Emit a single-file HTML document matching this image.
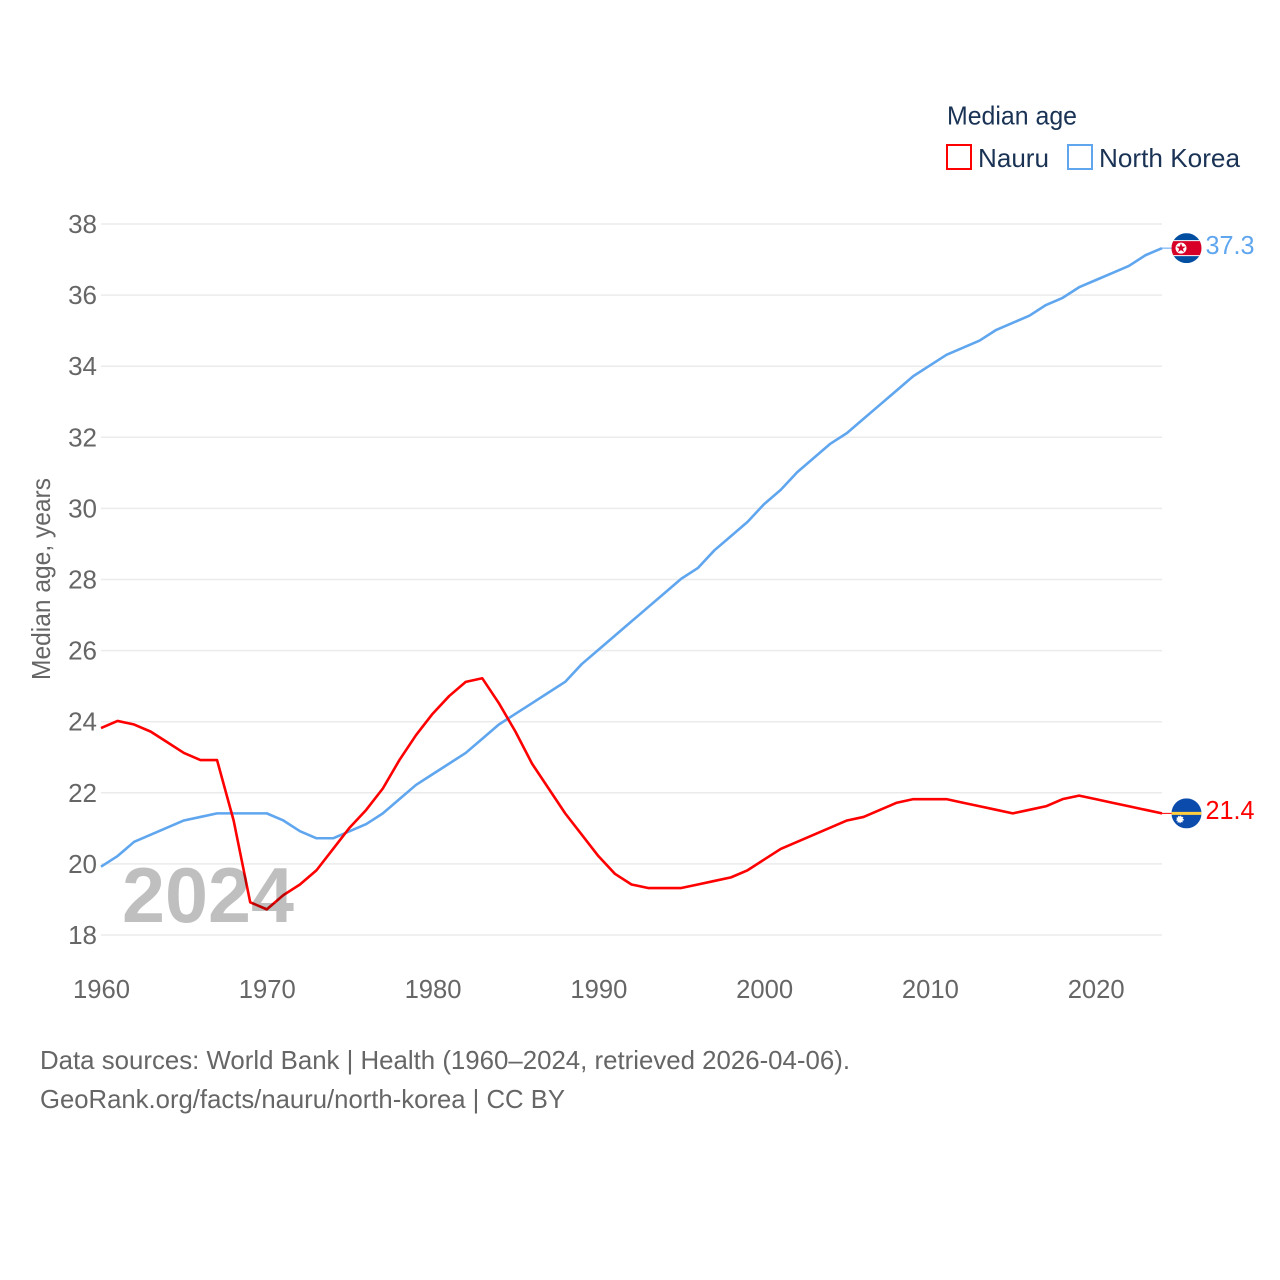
<!DOCTYPE html>
<html lang="en">
<head>
<meta charset="utf-8">
<title>Median age: Nauru and North Korea</title>
<style>
html,body{margin:0;padding:0;background:#fff;}
svg{display:block;font-family:"Liberation Sans",sans-serif;}
</style>
</head>
<body>
<svg id="chart" xmlns="http://www.w3.org/2000/svg" width="1280" height="1280" viewBox="0 0 1280 1280">
  <defs>
    <clipPath id="clip-kp"><circle cx="0" cy="0" r="15"/></clipPath>
    <clipPath id="clip-nr"><circle cx="0" cy="0" r="15"/></clipPath>
  </defs>
  <rect x="0" y="0" width="1280" height="1280" fill="#fff"/>
  <g id="grid"></g>
  <g id="yticks"></g>
  <g id="xticks"></g>
  <text transform="translate(50,680) rotate(-90)" font-size="26" fill="#666" textLength="202" lengthAdjust="spacingAndGlyphs">Median age, years</text>
  <g id="series" transform="translate(0,-0.75)"></g>

  <g id="flag-kp">
    <g clip-path="url(#clip-kp)">
      <rect x="-15" y="-15" width="30" height="30" fill="#024fa2"/>
      <rect x="-15" y="-8" width="30" height="16" fill="#fff"/>
      <rect x="-15" y="-7" width="30" height="14" fill="#d80027"/>
      <circle cx="-5.5" cy="0" r="5.5" fill="#fff"/>
      <polygon fill="#d80027" points="-5.5,-5 -4.3,-1.6 -0.7,-1.5 -3.6,0.6 -2.5,4 -5.5,2 -8.5,4 -7.4,0.6 -10.3,-1.5 -6.7,-1.6"/>
    </g>
  </g>
  <g id="flag-nr">
    <g clip-path="url(#clip-nr)">
      <rect x="-15" y="-15" width="30" height="30" fill="#0a4bab"/>
      <rect x="-15" y="-1.5" width="30" height="3" fill="#ffcf3f"/>
      <circle cx="-6.5" cy="6" r="3" fill="#fff" stroke="#fff" stroke-width="1.6" stroke-dasharray="1 1"/>
    </g>
  </g>
  <text id="value-kp" x="1205.5" font-size="26" fill="#5fa6ef" textLength="49" lengthAdjust="spacingAndGlyphs"></text>
  <text id="value-nr" x="1205.5" font-size="26" fill="#ff0000" textLength="49" lengthAdjust="spacingAndGlyphs"></text>

  <text x="122" y="922" font-size="78" font-weight="700" fill="#000" fill-opacity="0.25" textLength="172" lengthAdjust="spacingAndGlyphs">2024</text>

  <g>
    <text x="947" y="124.5" font-size="26" fill="#1a3355" textLength="130" lengthAdjust="spacingAndGlyphs">Median age</text>
    <rect x="947" y="145" width="24" height="24" fill="none" stroke="#ff0000" stroke-width="2"/>
    <text x="978" y="167" font-size="26" fill="#1a3355" textLength="71" lengthAdjust="spacingAndGlyphs">Nauru</text>
    <rect x="1068" y="145" width="24" height="24" fill="none" stroke="#5fa6ef" stroke-width="2"/>
    <text x="1099" y="167" font-size="26" fill="#1a3355" textLength="141" lengthAdjust="spacingAndGlyphs">North Korea</text>
  </g>

  <text x="40" y="1069" font-size="26" fill="#666" textLength="810" lengthAdjust="spacingAndGlyphs">Data sources: World Bank | Health (1960–2024, retrieved 2026-04-06).</text>
  <text x="40" y="1108" font-size="26" fill="#666" textLength="525" lengthAdjust="spacingAndGlyphs">GeoRank.org/facts/nauru/north-korea | CC BY</text>
</svg>
<script>
const startYear = 1960;
const endYear = 2024;
const yTicks = [18, 20, 22, 24, 26, 28, 30, 32, 34, 36, 38];
const xTicks = [1960, 1970, 1980, 1990, 2000, 2010, 2020];
const nauru = [23.8,24.0,23.9,23.7,23.4,23.1,22.9,22.9,21.2,18.9,18.7,19.1,19.4,19.8,20.4,21.0,21.5,22.1,22.9,23.6,24.2,24.7,25.1,25.2,24.5,23.7,22.8,22.1,21.4,20.8,20.2,19.7,19.4,19.3,19.3,19.3,19.4,19.5,19.6,19.8,20.1,20.4,20.6,20.8,21.0,21.2,21.3,21.5,21.7,21.8,21.8,21.8,21.7,21.6,21.5,21.4,21.5,21.6,21.8,21.9,21.8,21.7,21.6,21.5,21.4];
const northKorea = [19.9,20.2,20.6,20.8,21.0,21.2,21.3,21.4,21.4,21.4,21.4,21.2,20.9,20.7,20.7,20.9,21.1,21.4,21.8,22.2,22.5,22.8,23.1,23.5,23.9,24.2,24.5,24.8,25.1,25.6,26.0,26.4,26.8,27.2,27.6,28.0,28.3,28.8,29.2,29.6,30.1,30.5,31.0,31.4,31.8,32.1,32.5,32.9,33.3,33.7,34.0,34.3,34.5,34.7,35.0,35.2,35.4,35.7,35.9,36.2,36.4,36.6,36.8,37.1,37.3];

const NS = 'http://www.w3.org/2000/svg';
const plotLeft = 101, plotRight = 1162, plotTop = 224, plotBottom = 935;
function xScale(year) {
  return plotLeft + (year - startYear) * (plotRight - plotLeft) / (endYear - startYear);
}
function yScale(value) {
  return plotBottom - (value - 18) * (plotBottom - plotTop) / (38 - 18);
}
function make(tag, attrs, parent) {
  const el = document.createElementNS(NS, tag);
  for (const k in attrs) el.setAttribute(k, attrs[k]);
  parent.appendChild(el);
  return el;
}
const gridGroup = document.getElementById('grid');
const yGroup = document.getElementById('yticks');
const xGroup = document.getElementById('xticks');
const seriesGroup = document.getElementById('series');

yTicks.forEach(function (t) {
  const line = make('line', {x1: plotLeft, x2: plotRight, y1: yScale(t), y2: yScale(t), stroke: '#ebebeb', 'stroke-width': 1.5}, gridGroup);
  
  
  const label = make('text', {x: 97, y: yScale(t) + 9, 'text-anchor': 'end', 'font-size': 26, fill: '#666'}, yGroup);
  
  
  label.textContent = t;
});
xTicks.forEach(function (t) {
  const label = make('text', {x: xScale(t) + 0.5, y: 998, 'text-anchor': 'middle', 'font-size': 26, fill: '#666', textLength: 57, lengthAdjust: 'spacingAndGlyphs'}, xGroup);
  
  
  label.textContent = t;
});
function linePoints(values) {
  return values.map(function (v, i) {
    return xScale(startYear + i).toFixed(2) + ',' + yScale(v).toFixed(2);
  }).join(' ');
}
const lineNk = make('polyline', {points: linePoints(northKorea), fill: 'none', stroke: '#5fa6ef', 'stroke-width': 2.6, 'stroke-linejoin': 'round'}, seriesGroup);


const lineNr = make('polyline', {points: linePoints(nauru), fill: 'none', stroke: '#ff0000', 'stroke-width': 2.6, 'stroke-linejoin': 'round'}, seriesGroup);



const lastNk = northKorea[northKorea.length - 1];
const lastNr = nauru[nauru.length - 1];
const connNk = make('line', {x1: plotRight, x2: 1172, y1: yScale(lastNk), y2: yScale(lastNk), stroke: '#5fa6ef', 'stroke-width': 1}, seriesGroup);


const connNr = make('line', {x1: plotRight, x2: 1172, y1: yScale(lastNr), y2: yScale(lastNr), stroke: '#ff0000', 'stroke-width': 1}, seriesGroup);



document.getElementById('flag-kp').setAttribute('transform', 'translate(1186.5,' + (yScale(lastNk) - 0.75) + ')');
document.getElementById('flag-nr').setAttribute('transform', 'translate(1186.5,' + (yScale(lastNr) - 0.75) + ')');
const valueKp = document.getElementById('value-kp');
valueKp.setAttribute('y', yScale(lastNk) + 5);
valueKp.textContent = lastNk.toFixed(1);
const valueNr = document.getElementById('value-nr');
valueNr.setAttribute('y', yScale(lastNr) + 5);
valueNr.textContent = lastNr.toFixed(1);
</script>
</body>
</html>
